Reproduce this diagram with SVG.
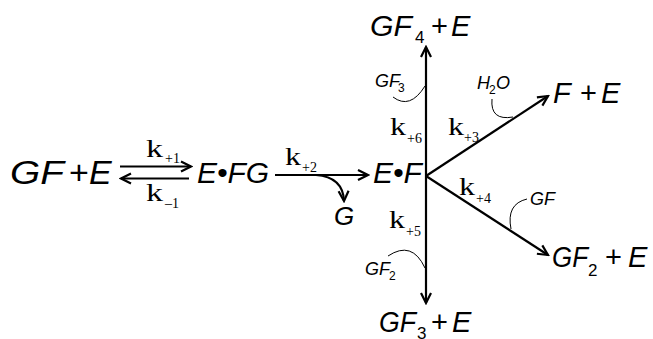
<svg xmlns="http://www.w3.org/2000/svg" width="653" height="339" viewBox="0 0 653 339">
<style>
text { font-family: "Liberation Sans", Arial, sans-serif; fill: #000; }
.it { font-style: italic; }
.up { font-style: normal; }
.big { font-size: 29px; }
.sub { font-size: 17px; }
.sm { font-size: 18px; font-style: italic; }
.smsub { font-size: 12px; }
.k { font-family: "Liberation Serif", "Times New Roman", serif; font-size: 25px; }
.ks { font-family: "Liberation Serif", "Times New Roman", serif; font-size: 14px; }
.ln { stroke: #000; stroke-width: 2.2; fill: none; }
.arc { stroke: #000; stroke-width: 1; fill: none; }
</style>
<defs>
<marker id="ah" viewBox="-12 -7 14 14" refX="0" refY="0" markerWidth="14" markerHeight="14" markerUnits="userSpaceOnUse" orient="auto">
<path d="M-10,-5 L0,0 L-10,5" fill="none" stroke="#000" stroke-width="2.2"/>
</marker>
</defs>
<rect width="653" height="339" fill="#fff"/>

<g id="connectors">
<line class="ln" x1="120" y1="166.5" x2="191" y2="166.5" marker-end="url(#ah)"/>
<line class="ln" x1="189" y1="178.5" x2="121" y2="178.5" marker-end="url(#ah)"/>
<line class="ln" x1="275" y1="175" x2="368" y2="175" marker-end="url(#ah)"/>
<path class="ln" d="M316,175 Q343,177 344,201" marker-end="url(#ah)"/>
<line class="ln" x1="426" y1="176" x2="426" y2="47" marker-end="url(#ah)"/>
<line class="ln" x1="426" y1="176" x2="426" y2="303" marker-end="url(#ah)"/>
<line class="ln" x1="426" y1="176" x2="548" y2="96" marker-end="url(#ah)"/>
<line class="ln" x1="426" y1="176" x2="548" y2="255" marker-end="url(#ah)"/>
<path class="arc" d="M393,97 Q410,110 425,86"/>
<path class="arc" d="M492,99 Q490,121 513,117"/>
<path class="arc" d="M527,199 Q506,204 511,229"/>
<path class="arc" d="M388,256 Q412,240 425,268"/>
</g>

<g id="labels">
<text class="k" x="146" y="157" textLength="17" lengthAdjust="spacingAndGlyphs">k</text><text class="ks" x="165" y="163">+1</text>
<text class="k" x="146" y="201" textLength="17" lengthAdjust="spacingAndGlyphs">k</text><text class="ks" x="165" y="208">–1</text>
<text class="k" x="285" y="165" textLength="16" lengthAdjust="spacingAndGlyphs">k</text><text class="ks" x="302" y="172">+2</text>
<text class="k" x="390" y="135" textLength="16" lengthAdjust="spacingAndGlyphs">k</text><text class="ks" x="407" y="143">+6</text>
<text class="k" x="448" y="135" textLength="16" lengthAdjust="spacingAndGlyphs">k</text><text class="ks" x="464" y="142">+3</text>
<text class="k" x="459" y="195" textLength="16" lengthAdjust="spacingAndGlyphs">k</text><text class="ks" x="476" y="203">+4</text>
<text class="k" x="389" y="228" textLength="16" lengthAdjust="spacingAndGlyphs">k</text><text class="ks" x="406" y="236">+5</text>
<text class="sm" x="375" y="87">GF</text><text class="smsub" x="398" y="92">3</text>
<text class="sm" x="477" y="89">H</text><text class="smsub" x="489" y="94">2</text><text class="sm" x="496" y="89">O</text>
<text class="sm" x="530" y="205">GF</text>
<text class="sm" x="365" y="275">GF</text><text class="smsub" x="389" y="280">2</text>
</g>

<g id="n-gf-e">
<text class="it" style="font-size:34px" x="10" y="184" textLength="54" lengthAdjust="spacingAndGlyphs">GF</text>
<text class="up" style="font-size:34px" x="69" y="184">+</text>
<text class="it" style="font-size:34px" x="89" y="184">E</text>
</g>
<g id="n-efg">
<text class="it" style="font-size:30px" x="197" y="183">E•FG</text>
</g>
<g id="n-g">
<text class="it" style="font-size:26px" x="334" y="225">G</text>
</g>
<g id="n-ef">
<text class="it" style="font-size:30px" x="373" y="183">E•F</text>
</g>
<g id="n-gf4-e">
<text class="it big" x="370" y="36" textLength="42" lengthAdjust="spacingAndGlyphs">GF</text>
<text class="up sub" x="415" y="43">4</text>
<text class="up big" x="431" y="36">+</text>
<text class="it big" x="451" y="36">E</text>
</g>
<g id="n-f-e">
<text class="it big" x="553" y="103">F</text>
<text class="up big" x="580" y="103">+</text>
<text class="it big" x="601" y="103">E</text>
</g>
<g id="n-gf2-e">
<text class="it big" x="552" y="267" textLength="36" lengthAdjust="spacingAndGlyphs">GF</text>
<text class="up sub" x="588" y="276">2</text>
<text class="up big" x="605" y="267">+</text>
<text class="it big" x="628" y="267">E</text>
</g>
<g id="n-gf3-e">
<text class="it big" x="379" y="332" textLength="37" lengthAdjust="spacingAndGlyphs">GF</text>
<text class="up sub" x="417" y="339">3</text>
<text class="up big" x="431" y="332">+</text>
<text class="it big" x="452" y="332">E</text>
</g>
</svg>
